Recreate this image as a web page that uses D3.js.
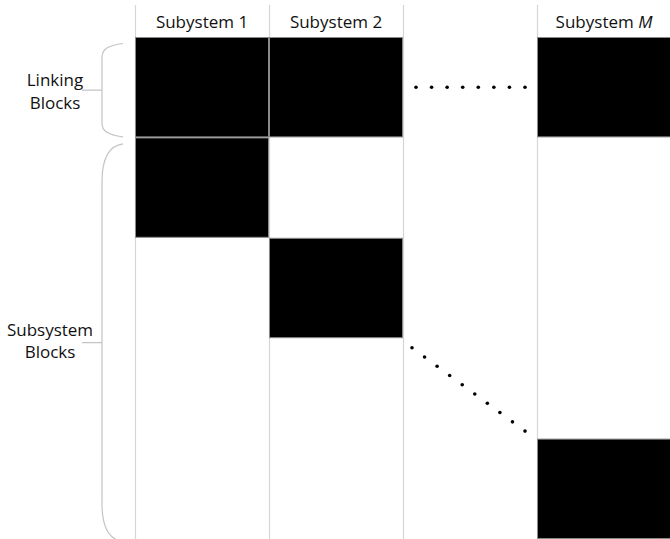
<!DOCTYPE html>
<html><head><meta charset="utf-8">
<script src="https://cdn.jsdelivr.net/npm/d3@7"></script>
<style>body{margin:0;background:#fff}svg{display:block}</style>
</head><body>
<svg id="c" width="670" height="539"></svg>
<script>
const columns = ["c1", "c2", "gap", "cM"];
const columnLabels = ["Subystem 1", "Subystem 2", "", "Subystem "];
const columnLabelItalic = ["", "", "", "M"];
const rows = ["link", "s1", "s2", "gapRow", "sM"];
const blockCols = ["c1", "c2", "cM", "c1", "c2", "cM"];
const blockRows = ["link", "link", "link", "s1", "s2", "sM"];
const groupNames = [["Linking", "Blocks"], ["Subsystem", "Blocks"]];
const groupRows = [["link", "link"], ["s1", "sM"]];
const hDotCount = 8;
const dDotCount = 10;

const svg = d3.select("#c");
const x = d3.scaleBand().domain(columns).range([135, 671]);
const y = d3.scaleBand().domain(rows).range([37.5, 539.5]);
const FONT = "Open Sans, sans-serif";

// vertical grid lines
svg.append("g").selectAll("line").data(columns).join("line")
  .attr("x1", d => x(d) + 0.5).attr("x2", d => x(d) + 0.5)
  .attr("y1", 5).attr("y2", 539)
  .attr("stroke", "#d6d6d6").attr("stroke-width", 1.2);

// blocks
const blocks = blockCols.map((c, i) => ({c, r: blockRows[i]}));
svg.append("g").selectAll("rect").data(blocks).join("rect")
  .attr("x", d => x(d.c) + 0.5).attr("y", d => y(d.r))
  .attr("width", x.bandwidth() - 1).attr("height", y.bandwidth() - 1)
  .attr("fill", "#000").attr("stroke", "#8a8a8a").attr("stroke-width", 1);

// headers
const hdr = svg.append("g").selectAll("text").data(columns).join("text")
  .attr("x", d => x(d) + x.bandwidth() / 2).attr("y", 28)
  .attr("text-anchor", "middle")
  .attr("font-family", FONT).attr("font-size", 17).attr("fill", "#111");
hdr.each(function(d, i) {
  const t = d3.select(this);
  t.append("tspan").text(columnLabels[i]);
  if (columnLabelItalic[i]) t.append("tspan").attr("font-style", "italic").text(columnLabelItalic[i]);
});

// horizontal dots
const gc = "gap";
const hx0 = x(gc) + 13, hx1 = x(gc) + x.bandwidth() - 12;
const hy = y("link") + y.bandwidth() / 2 - 0.5;
const hd = d3.range(hDotCount).map(i => [hx0 + (hx1 - hx0) * i / (hDotCount - 1), hy]);
// diagonal dots
const dx0 = x(gc) + 9, dx1 = x(gc) + x.bandwidth() - 12;
const dy0 = y("s2") + y.bandwidth() + 9, dy1 = y("sM") - 8;
const dd = d3.range(dDotCount).map(i => [dx0 + (dx1 - dx0) * i / (dDotCount - 1), dy0 + (dy1 - dy0) * i / (dDotCount - 1)]);
svg.append("g").selectAll("circle").data(hd.concat(dd)).join("circle")
  .attr("cx", d => d[0]).attr("cy", d => d[1]).attr("r", 1.8).attr("fill", "#000");

// braces
function brace(top, bot) {
  const xr = 123, xl = 102, tip = 82, mid = (top + bot) / 2;
  const c = Math.min(38, (bot - top) * 0.15);
  return `M${xr},${top} C${xl+5},${top+2} ${xl},${top+c*0.45} ${xl},${top+c} L${xl},${bot-c} C${xl},${bot-c*0.45} ${xl+5},${bot-2} ${xr},${bot}`
    + ` M${xl},${mid} L${tip},${mid}`;
}
const groups = groupRows.map((g, i) => ({top: y(g[0]) + 6, bot: y(g[1]) + y.bandwidth() - (i === 0 ? 1 : -2), names: groupNames[i]}));
const bg = svg.append("g");
bg.selectAll("path").data(groups).join("path")
  .attr("d", d => brace(d.top, d.bot)).attr("fill", "none")
  .attr("stroke", "#c4c4c4").attr("stroke-width", 1.2);
bg.selectAll("text").data(groups).join("text")
  .attr("x", (d, i) => i === 0 ? 55 : 50)
  .attr("y", (d, i) => (d.top + d.bot) / 2 - (i === 0 ? 4 : 7))
  .attr("text-anchor", "middle")
  .attr("font-family", FONT).attr("font-size", 17).attr("fill", "#111")
  .each(function(d) {
    const t = d3.select(this);
    d.names.forEach((n, k) => t.append("tspan").attr("x", t.attr("x")).attr("dy", k === 0 ? 0 : 22.5).text(n));
  });
</script>
</body></html>
